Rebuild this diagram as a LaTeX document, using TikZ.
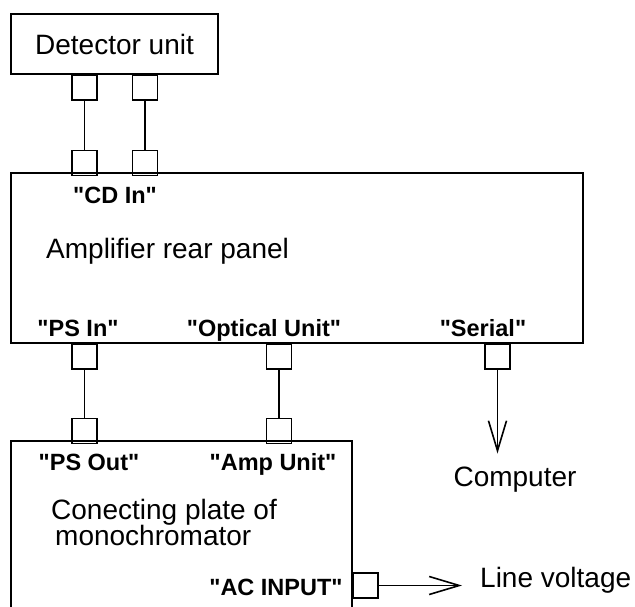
\documentclass[tikz,border=0pt]{standalone}
\usepackage{fontspec}
\setmainfont{Liberation Sans}[Ligatures=TeXOff]
\usetikzlibrary{positioning, arrows.meta}

\tikzset{
  unit/.style={draw, line width=1.6pt, inner sep=0pt},
  port/.style={draw, line width=1.6pt, minimum size=25pt, inner sep=0pt},
  tag/.style={font=\fontsize{23.5}{26}\selectfont\bfseries, inner sep=0pt},
  txt/.style={font=\fontsize{28}{27}\selectfont, inner sep=0pt},
  wire/.style={line width=1.6pt},
  cable/.style={line width=1.6pt, -{Straight Barb[length=30pt, width=18pt]}}
}

\begin{document}
\begin{tikzpicture}[x=1pt, y=-1pt]
    \useasboundingbox (0,0) rectangle (635,607);
    % boxes
    \node[unit, txt, minimum width=207pt, minimum height=60pt] (det) at (114.5,44) {Detector unit};
    \node[unit, minimum width=572pt, minimum height=170pt] (amp) at (297,258) {};
    \node[unit, minimum width=341pt, minimum height=184pt] (mono) at (181.5,533) {};
    % ports
    \node[port, anchor=north] (d1) at (84.5,74) {};
    \node[port, anchor=north] (d2) at (145,74) {};
    \node[port] (a1) [below=49pt of d1] {};
    \node[port] (a2) [below=49pt of d2] {};
    \node[port, anchor=north] (psin) at (84.5,343) {};
    \node[port, anchor=north] (opt) at (279,343) {};
    \node[port, anchor=north] (ser) at (497.5,343) {};
    \node[port] (psout) [below=48pt of psin] {};
    \node[port] (ampu) [below=48pt of opt] {};
    \node[port, anchor=west] (ac) at (352,585.5) {};
    % labels
    \node[tag] (cdin) at (115,195) {"CD In"};
    \node[txt, anchor=west] (ampname) at (46,251) {Amplifier rear panel};
    \node[tag] (lpsin) at (78,328) {"PS In"};
    \node[tag] (lopt) at (264,330.5) {"Optical Unit"};
    \node[tag] (lser) at (483,328) {"Serial"};
    \node[tag] (lpsout) at (89,462) {"PS Out"};
    \node[tag] (lampu) at (273,464.5) {"Amp Unit"};
    \node[tag] (lac) at (276,587) {"AC INPUT"};
    \node[txt, anchor=west] (mono1) at (51,512) {Conecting plate of};
    \node[txt, anchor=west] (mono2) at (55,535) {monochromator};
    \node[txt] (comp) at (515,480) {Computer};
    \node[txt, anchor=west] (volt) at (480,580) {Line voltage};
    % connections
    \draw[wire] (d1) -- (a1);
    \draw[wire] (d2) -- (a2);
    \draw[wire] (psin) -- (psout);
    \draw[wire] (opt) -- (ampu);
    \draw[cable, shorten >=13.6pt] (ser) -- (ser |- comp.north);
    \draw[cable, shorten >=18pt] (ac) -- (ac -| volt.west);
\end{tikzpicture}
\end{document}
